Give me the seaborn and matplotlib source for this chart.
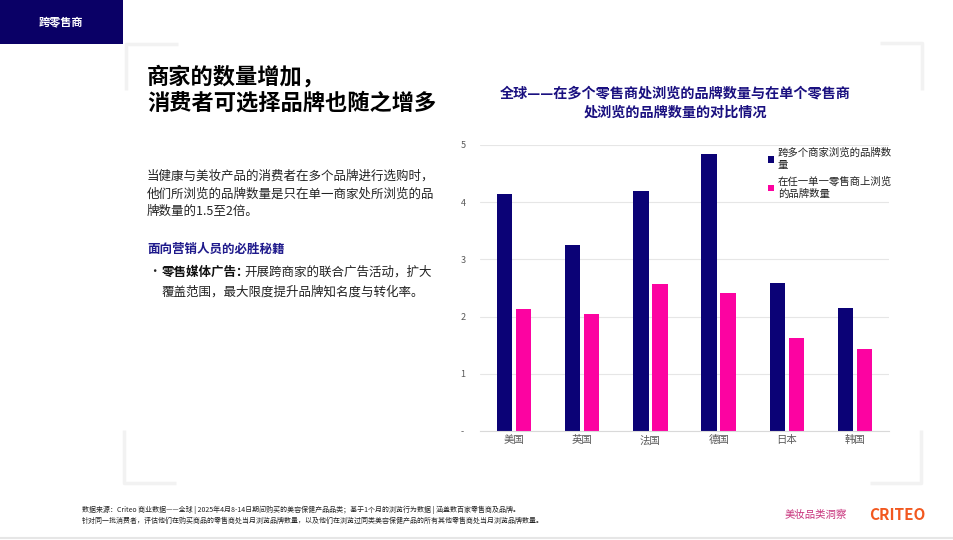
import pandas as pd
import matplotlib.pyplot as plt
import seaborn as sns
from matplotlib.lines import Line2D
from matplotlib.patches import Rectangle

# values
countries = ["美国", "英国", "法国", "德国", "日本", "韩国"]
multi_retailer = [4.15, 3.26, 4.19, 4.84, 2.59, 2.15]
single_retailer = [2.13, 2.04, 2.57, 2.41, 1.63, 1.44]
series_names = ["跨多个商家浏览的品牌数量", "在任一单一零售商上浏览的品牌数量"]
legend_labels = ["跨多个商家浏览的品牌数\n量", "在任一单一零售商上浏览\n的品牌数量"]
y_ticks = [0, 1, 2, 3, 4, 5]
y_tick_labels = ["-", "1", "2", "3", "4", "5"]

NAVY = "#0b0276"
PINK = "#fc03a1"

df = pd.DataFrame({
    "国家": countries * 2,
    "数量": multi_retailer + single_retailer,
    "指标": [series_names[0]] * len(countries) + [series_names[1]] * len(countries),
})

sns.set_theme(style="white")
plt.rcParams["font.family"] = ["Noto Sans CJK SC", "DejaVu Sans"]

W, H = 954, 540
fig = plt.figure(figsize=(9.54, 5.4), dpi=100)


def fx(x):
    return x / W


def fy(y):
    return 1 - y / H


# header banner
fig.add_artist(Rectangle((0, fy(44)), fx(123), 44 / H, transform=fig.transFigure,
                         color="#0a0066", lw=0))
fig.text(fx(61), fy(22), "跨零售商", color="white", fontsize=8, fontweight="bold",
         ha="center", va="center")

# faint corner brackets
bracket = dict(color="#f2f2f2", lw=2.5, transform=fig.transFigure, solid_capstyle="butt")
for xs, ys in [
    ([178, 126, 126], [44, 44, 90]),
    ([880, 922, 922], [43, 43, 90]),
    ([124, 124, 176], [430, 483, 483]),
    ([921, 921, 870], [430, 483, 483]),
]:
    fig.add_artist(Line2D([fx(x) for x in xs], [fy(y) for y in ys], **bracket))
fig.add_artist(Line2D([0, 1], [fy(538), fy(538)], color="#e6e6e6", lw=1.5,
                      transform=fig.transFigure))

# left text block
fig.text(fx(147), fy(90), "商家的数量增加，\n消费者可选择品牌也随之增多", fontsize=16,
         fontweight="bold", color="black", ha="left", va="center", linespacing=1.15)
fig.text(fx(147), fy(194),
         "当健康与美妆产品的消费者在多个品牌进行选购时，\n他们所浏览的品牌数量是只在单一商家处所浏览的品\n牌数量的1.5至2倍。",
         fontsize=9, color="#222222", ha="left", va="center", linespacing=1.45)
fig.text(fx(147), fy(249), "面向营销人员的必胜秘籍", fontsize=9, fontweight="bold",
         color="#1f1a8c", ha="left", va="center")
fig.text(fx(148), fy(272), "•", fontsize=9, color="#222222", ha="left", va="center")
bold_part = fig.text(fx(162), fy(272), "零售媒体广告：", fontsize=9, fontweight="bold",
                     color="#111111", ha="left", va="center")
fig.add_artist(plt.Annotation("开展跨商家的联合广告活动，扩大", xy=(1, 0.5),
                              xycoords=bold_part, xytext=(-4, 0),
                              textcoords="offset points", fontsize=9,
                              color="#222222", ha="left", va="center"))
fig.text(fx(162), fy(292), "覆盖范围，最大限度提升品牌知名度与转化率。", fontsize=9,
         color="#222222", ha="left", va="center")

# chart title
fig.text(fx(675), fy(103),
         "全球——在多个零售商处浏览的品牌数量与在单个零售商\n处浏览的品牌数量的对比情况",
         fontsize=10.2, fontweight="bold", color="#1a1080", ha="center", va="center",
         linespacing=1.42)

# chart
ax = fig.add_axes([fx(480), fy(431), fx(889 - 480), (431 - 145) / H])
sns.barplot(data=df, x="国家", y="数量", hue="指标", palette=[NAVY, PINK],
            width=0.56, gap=0.2, ax=ax, saturation=1, edgecolor="none")
ax.set_ylim(0, 5)
ax.set_yticks(y_ticks)
ax.set_yticklabels(y_tick_labels)
ax.set_xlabel("")
ax.set_ylabel("")
ax.grid(axis="y", color="#e6e6e6", lw=0.8)
ax.set_axisbelow(True)
for side in ["top", "right", "left"]:
    ax.spines[side].set_visible(False)
ax.spines["bottom"].set_color("#d9d9d9")
ax.spines["bottom"].set_linewidth(0.8)
ax.tick_params(axis="x", labelsize=7.5, colors="#595959", length=0, pad=3)
ax.tick_params(axis="y", labelsize=6.5, colors="#595959", length=0, pad=14)
for lbl in ax.get_yticklabels():
    lbl.set_horizontalalignment("left")

handles, _ = ax.get_legend_handles_labels()
ax.legend(handles, legend_labels, loc="upper left", frameon=False,
          bbox_to_anchor=(fx(768), fy(148)), bbox_transform=fig.transFigure,
          fontsize=7.5, handlelength=0.55, handleheight=0.55, handletextpad=0.4,
          labelspacing=0.6, borderaxespad=0, borderpad=0)
for t in ax.get_legend().get_texts():
    t.set_linespacing(1.25)
    t.set_color("#222222")

# footnote
fig.text(fx(82), fy(510),
         "数据来源：Criteo 商业数据——全球 | 2025年4月8-14日期间购买的美容保健产品品类；基于1个月的浏览行为数据 | 涵盖数百家零售商及品牌。",
         fontsize=5, color="#222222", ha="left", va="center")
fig.text(fx(82), fy(521),
         "针对同一批消费者，评估他们在购买商品的零售商处当月浏览品牌数量，以及他们在浏览过同类美容保健产品的所有其他零售商处当月浏览品牌数量。",
         fontsize=5, color="#222222", ha="left", va="center")

# logos
fig.text(fx(785), fy(515), "美妆品类洞察", fontsize=7.5, color="#c8337c",
         ha="left", va="center")
fig.text(fx(869), fy(515), "CRITEO", fontsize=11, fontweight="heavy",
         color="#f2581f", ha="left", va="center")

fig.savefig("out.png", dpi=100)
